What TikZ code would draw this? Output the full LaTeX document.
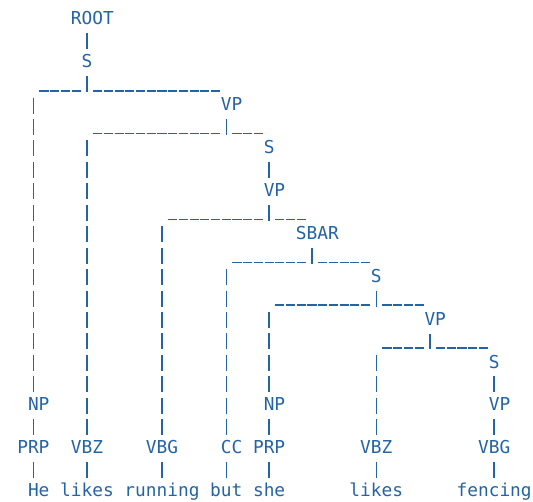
\documentclass[tikz,border=0pt]{standalone}
\usepackage{fontspec}
\newfontfamily\treefont{DejaVu Sans Mono}
\usetikzlibrary{calc}
\definecolor{treeblue}{RGB}{36,100,165}
\begin{document}
\begin{tikzpicture}[x=10.716pt, y=-21.44pt,
  lab/.style={font=\treefont\fontsize{17.8pt}{21.44pt}\selectfont, text=treeblue, inner sep=0pt, anchor=base, text height=13pt, text depth=4pt},
  pipe/.style={draw=treeblue, line width=1.5pt, dash pattern=on 16pt off 5.44pt, shorten <=4.24pt, shorten >=5.64pt},
  stem/.style={draw=treeblue, line width=1.5pt, shorten <=4.24pt},
  bar/.style={draw=treeblue, line width=1.5pt, dash pattern=on 9.2pt off 1.516pt},
]
\useasboundingbox[fill=white] (-22.66pt,25pt) rectangle (510.34pt,-477pt);

% labels (x = column of the vertical line, y = row)
\node[lab] (ROOT) at (6,0) {\hphantom{R}ROOT};
\node[lab] (S1) at (6,2) {S};
\node[lab] (VP1) at (19,4) {\hphantom{V}VP};
\node[lab] (S2) at (23,6) {S};
\node[lab] (VP2) at (23,8) {\hphantom{V}VP};
\node[lab] (SBAR) at (27,10) {\hphantom{S}SBAR};
\node[lab] (S3) at (33,12) {S};
\node[lab] (VP3) at (38,14) {\hphantom{V}VP};
\node[lab] (S4) at (44,16) {S};
\node[lab] (NP1) at (1,18) {\hphantom{N}NP};
\node[lab] (NP2) at (23,18) {\hphantom{N}NP};
\node[lab] (VP4) at (44,18) {\hphantom{V}VP};
\node[lab] (PRP1) at (1,20) {PRP};
\node[lab] (VBZ1) at (6,20) {VBZ};
\node[lab] (VBG1) at (13,20) {VBG};
\node[lab] (CC) at (19,20) {\hphantom{C}CC};
\node[lab] (PRP2) at (23,20) {PRP};
\node[lab] (VBZ2) at (33,20) {VBZ};
\node[lab] (VBG2) at (44,20) {VBG};
\node[lab] (w1) at (1,22) {\hphantom{H}He};
\node[lab] (w2) at (6,22) {likes};
\node[lab] (w3) at (13,22) {running};
\node[lab] (w4) at (19,22) {but};
\node[lab] (w5) at (23,22) {she};
\node[lab] (w6) at (33,22) {likes};
\node[lab] (w7) at (44,22) {fencing};

% branch rows: b = bottom of the stem, u = height of the underscores
\foreach \r in {3,5,9,11,13,15} {
  \coordinate (b\r) at ($(0,\r)+(0,-2.8pt)$);
  \coordinate (u\r) at ($(0,\r)+(0,-1.5pt)$);
}

% single chains
\draw[pipe] (ROOT) -- (S1);
\draw[pipe] (S2) -- (VP2);
\draw[pipe] (S4) -- (VP4);
\draw[pipe] (NP1) -- (PRP1);
\draw[pipe] (NP2) -- (PRP2);
\draw[pipe] (VP4) -- (VBG2);
\draw[pipe] (PRP1) -- (w1);
\draw[pipe] (VBZ1) -- (w2);
\draw[pipe] (VBG1) -- (w3);
\draw[pipe] (CC) -- (w4);
\draw[pipe] (PRP2) -- (w5);
\draw[pipe] (VBZ2) -- (w6);
\draw[pipe] (VBG2) -- (w7);

% branch S1 -> NP1, VP1 (row 3)
\draw[stem] (S1.south) -- (S1.south |- b3);
\draw[bar] ($(NP1 |- u3)+(6.116pt,0)$) -- ($(S1 |- u3)+(-6.116pt,0)$);
\draw[bar] ($(S1 |- u3)+(6.116pt,0)$) -- ($(VP1 |- u3)+(-6.116pt,0)$);
\draw[pipe, shorten <=5.44pt] (NP1 |- b3) -- (NP1);

% branch VP1 -> VBZ1, S2 (row 5)
\draw[stem] (VP1.south) -- (VP1.south |- b5);
\draw[bar] ($(VBZ1 |- u5)+(6.116pt,0)$) -- ($(VP1 |- u5)+(-6.116pt,0)$);
\draw[bar] ($(VP1 |- u5)+(6.116pt,0)$) -- ($(S2 |- u5)+(-6.116pt,0)$);
\draw[pipe, shorten <=5.44pt] (VBZ1 |- b5) -- (VBZ1);

% branch VP2 -> VBG1, SBAR (row 9)
\draw[stem] (VP2.south) -- (VP2.south |- b9);
\draw[bar] ($(VBG1 |- u9)+(6.116pt,0)$) -- ($(VP2 |- u9)+(-6.116pt,0)$);
\draw[bar] ($(VP2 |- u9)+(6.116pt,0)$) -- ($(SBAR |- u9)+(-6.116pt,0)$);
\draw[pipe, shorten <=5.44pt] (VBG1 |- b9) -- (VBG1);

% branch SBAR -> CC, S3 (row 11)
\draw[stem] (SBAR.south) -- (SBAR.south |- b11);
\draw[bar] ($(CC |- u11)+(6.116pt,0)$) -- ($(SBAR |- u11)+(-6.116pt,0)$);
\draw[bar] ($(SBAR |- u11)+(6.116pt,0)$) -- ($(S3 |- u11)+(-6.116pt,0)$);
\draw[pipe, shorten <=5.44pt] (CC |- b11) -- (CC);

% branch S3 -> NP2, VP3 (row 13)
\draw[stem] (S3.south) -- (S3.south |- b13);
\draw[bar] ($(NP2 |- u13)+(6.116pt,0)$) -- ($(S3 |- u13)+(-6.116pt,0)$);
\draw[bar] ($(S3 |- u13)+(6.116pt,0)$) -- ($(VP3 |- u13)+(-6.116pt,0)$);
\draw[pipe, shorten <=5.44pt] (NP2 |- b13) -- (NP2);

% branch VP3 -> VBZ2, S4 (row 15)
\draw[stem] (VP3.south) -- (VP3.south |- b15);
\draw[bar] ($(VBZ2 |- u15)+(6.116pt,0)$) -- ($(VP3 |- u15)+(-6.116pt,0)$);
\draw[bar] ($(VP3 |- u15)+(6.116pt,0)$) -- ($(S4 |- u15)+(-6.116pt,0)$);
\draw[pipe, shorten <=5.44pt] (VBZ2 |- b15) -- (VBZ2);
\end{tikzpicture}
\end{document}
